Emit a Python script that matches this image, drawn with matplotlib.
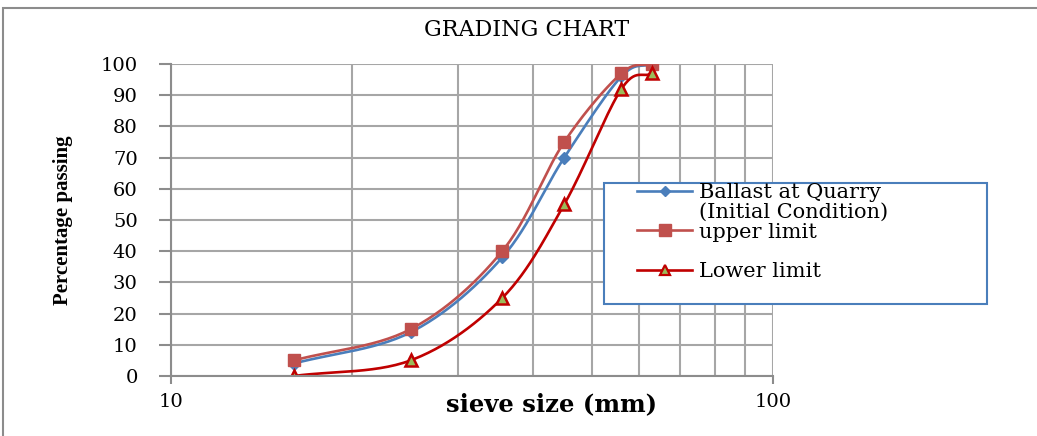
import numpy as np
import matplotlib
matplotlib.use("Agg")
import matplotlib.pyplot as plt
from matplotlib.patches import Rectangle
from matplotlib.ticker import NullFormatter

# sieve sizes (mm) and percentage passing
sieve = [16, 25, 35.5, 45, 56, 63]
ballast = [4, 14, 38, 70, 96, 100]
upper = [5, 15, 40, 75, 97, 100]
lower = [0, 5, 25, 55, 92, 97]

y_ticks = [0, 10, 20, 30, 40, 50, 60, 70, 80, 90, 100]
x_ticks = [10, 100]


def smooth(xs, ys, n=30):
    # catmull-rom curve through the points (x in log space), like excel's smoothed line
    lx = np.log10(xs)
    ys = np.asarray(ys, float)
    px = np.concatenate([[2 * lx[0] - lx[1]], lx, [2 * lx[-1] - lx[-2]]])
    py = np.concatenate([[2 * ys[0] - ys[1]], ys, [2 * ys[-1] - ys[-2]]])
    outx, outy = [], []
    t = np.linspace(0, 1, n)
    for i in range(1, len(px) - 2):
        for p, out in ((px, outx), (py, outy)):
            p0, p1, p2, p3 = p[i - 1], p[i], p[i + 1], p[i + 2]
            out.extend(0.5 * ((2 * p1) + (-p0 + p2) * t
                              + (2 * p0 - 5 * p1 + 4 * p2 - p3) * t ** 2
                              + (-p0 + 3 * p1 - 3 * p2 + p3) * t ** 3))
    return 10 ** np.array(outx), np.array(outy)


plt.rcParams["font.family"] = ["DejaVu Serif"]

W, H = 1037, 436
fig = plt.figure(figsize=(W / 100, H / 100), dpi=100)
ax = fig.add_axes([171 / W, 60 / H, 602 / W, 312 / H])

# outer frame (only left and top edges are inside the picture)
fig.patches.append(Rectangle((3 / W, -0.05), 1.1, 1.05 - 8 / H, transform=fig.transFigure,
                             fill=False, edgecolor="#8c8c8c", linewidth=1.5))

blue = "#4A7EBB"
red1 = "#C0504D"
red2 = "#C00000"
green = "#9BBB59"
lw = 1.9

sx, sy = smooth(sieve, ballast)
ax.plot(sx, sy, color=blue, linewidth=lw)
ax.plot(sieve, ballast, linestyle="none", marker="D", markersize=6, color=blue)

sx, sy = smooth(sieve, upper)
ax.plot(sx, sy, color=red1, linewidth=lw)
ax.plot(sieve, upper, linestyle="none", marker="s", markersize=9, color=red1)

sx, sy = smooth(sieve, lower)
ax.plot(sx, sy, color=red2, linewidth=lw)
ax.plot(sieve, lower, linestyle="none", marker="^", markersize=8,
        markerfacecolor=green, markeredgecolor=red2, markeredgewidth=1.8)

# legend handles (excel style: every entry one row high, the long label runs into the next row)
h_ballast, = ax.plot([], [], color=blue, linewidth=lw, marker="D", markersize=5)
h_upper, = ax.plot([], [], color=red1, linewidth=lw, marker="s", markersize=8)
h_lower, = ax.plot([], [], color=red2, linewidth=lw, marker="^", markersize=7,
                   markerfacecolor=green, markeredgecolor=red2, markeredgewidth=1.6)
h_none, = ax.plot([], [], linestyle="none", marker="none")

ax.set_xscale("log")
ax.set_xlim(10, 100)
ax.set_ylim(0, 100)
ax.set_yticks(y_ticks)
ax.set_xticks(x_ticks)
ax.set_xticklabels([str(v) for v in x_ticks])
ax.xaxis.set_minor_formatter(NullFormatter())
ax.tick_params(axis="x", which="minor", length=0)
ax.tick_params(axis="x", which="major", length=6, width=1.5, color="#8c8c8c", pad=6, labelsize=14)
ax.tick_params(axis="y", length=9, width=1.5, color="#8c8c8c", pad=15, labelsize=14)
ax.grid(True, which="both", color="#a6a6a6", linewidth=1.5)
ax.set_axisbelow(True)
for side in ["left", "bottom"]:
    ax.spines[side].set_color("#8c8c8c")
    ax.spines[side].set_linewidth(1.5)
ax.spines["top"].set_visible(False)
ax.spines["right"].set_visible(False)

fig.text(527 / W, 1 - 30 / H, "GRADING CHART", ha="center", va="center", fontsize=16)
fig.text(63 / W, 1 - 220 / H, "Percentage passing", ha="center", va="center", rotation=90,
         fontsize=15, fontweight="bold", family="Liberation Serif")
fig.text(552 / W, 1 - 404 / H, "sieve size (mm)", ha="center", va="center",
         fontsize=17.5, fontweight="bold")

# legend box
ax.add_patch(Rectangle((604 / W, 1 - 304 / H), 383 / W, 121 / H, transform=fig.transFigure,
                       facecolor="white", edgecolor=blue, linewidth=1.5, clip_on=False, zorder=4))
leg = ax.legend([h_ballast, h_none, h_upper, h_none, h_lower],
                ["Ballast at Quarry", "(Initial Condition)", "upper limit", " ", "Lower limit"],
                loc="upper left", bbox_to_anchor=(637 / W, 1 - 183 / H),
                bbox_transform=fig.transFigure, fontsize=15, frameon=False,
                handlelength=2.65, handletextpad=0.33, borderpad=0, borderaxespad=0,
                labelspacing=0.04)
leg.set_zorder(5)

fig.savefig("out.png", dpi=100)
